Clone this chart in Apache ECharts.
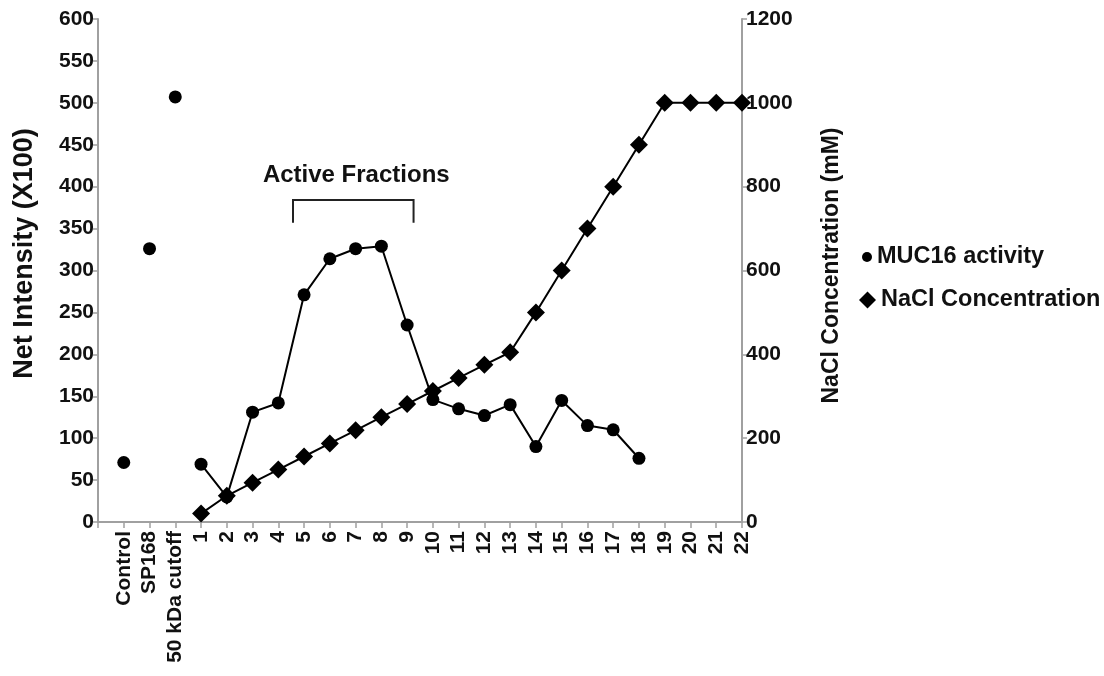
<!DOCTYPE html>
<html>
<head>
<meta charset="utf-8">
<script src="https://cdn.jsdelivr.net/npm/echarts@6/dist/echarts.min.js"></script>
<style>
html,body{margin:0;padding:0;background:#fff;}
#chart{width:1104px;height:676px;}
</style>
</head>
<body>
<div id="chart"></div>
<script>
// Categories along the x axis (first slot is the empty axis start)
const categories = ['', 'Control', 'SP168', '50 kDa cutoff', '1', '2', '3', '4', '5', '6', '7', '8', '9', '10', '11', '12', '13', '14', '15', '16', '17', '18', '19', '20', '21', '22'];
// MUC16 activity, Net Intensity (X100)
const controlLabels = ['Control', 'SP168', '50 kDa cutoff'];
const controlActivity = [71, 326, 507];
const fractionLabels = ['1', '2', '3', '4', '5', '6', '7', '8', '9', '10', '11', '12', '13', '14', '15', '16', '17', '18'];
const fractionActivity = [69, 30, 131, 142, 271, 314, 326, 329, 235, 146, 135, 127, 140, 90, 145, 115, 110, 76];
// NaCl concentration (mM), fractions 1-22
const naclLabels = ['1', '2', '3', '4', '5', '6', '7', '8', '9', '10', '11', '12', '13', '14', '15', '16', '17', '18', '19', '20', '21', '22'];
const naclConc = [20, 62.5, 93.75, 125, 156.25, 187.5, 218.75, 250, 281.25, 312.5, 343.75, 375, 405, 500, 600, 700, 800, 900, 1000, 1000, 1000, 1000];
// Left / right axis ticks
const leftTicks = {min: 0, max: 600, interval: 50};
const rightTicks = {min: 0, max: 1200, interval: 200};

function pairs(labels, values) {
  return labels.map((l, i) => [l, values[i]]);
}

const FONT = "'Liberation Sans', Arial, Helvetica, sans-serif";
const axisGray = '#a0a0a0';
const plain = v => String(v);

const chart = echarts.init(document.getElementById('chart'));
const option = {
  backgroundColor: '#fff',
  animation: false,
  textStyle: {fontFamily: FONT},
  grid: {left: 98, right: 362, top: 19, bottom: 154, containLabel: false},
  legend: [
    {
      data: [{name: 'MUC16 activity', icon: 'circle'}],
      left: 857, top: 240, itemWidth: 10, itemHeight: 10, itemGap: 6,
      textStyle: {fontFamily: FONT, fontWeight: 'bold', fontSize: 23.5, color: '#111'}
    },
    {
      data: [{name: 'NaCl Concentration', icon: 'diamond'}],
      left: 854, top: 283, itemWidth: 17, itemHeight: 17, itemGap: 6,
      textStyle: {fontFamily: FONT, fontWeight: 'bold', fontSize: 23.5, color: '#111'}
    }
  ],
  xAxis: {
    type: 'category',
    data: categories,
    boundaryGap: false,
    axisLine: {lineStyle: {color: axisGray, width: 2}},
    axisTick: {show: true, interval: 0, length: 6, lineStyle: {color: axisGray, width: 1.5}},
    axisLabel: {interval: 0, rotate: 90, margin: 9, color: '#111', fontFamily: FONT, fontWeight: 'bold', fontSize: 21},
    splitLine: {show: false}
  },
  yAxis: [
    {
      type: 'value', position: 'left',
      min: leftTicks.min, max: leftTicks.max, interval: leftTicks.interval,
      name: 'Net Intensity (X100)', nameLocation: 'middle', nameGap: 60, nameRotate: 90,
      nameTextStyle: {fontFamily: FONT, fontWeight: 'bold', fontSize: 27, color: '#111', padding: [0, 0, 0, 34]},
      axisLine: {show: true, lineStyle: {color: axisGray, width: 2}},
      axisTick: {show: true, length: 5, lineStyle: {color: axisGray, width: 1.5}},
      axisLabel: {margin: 4, color: '#111', fontFamily: FONT, fontWeight: 'bold', fontSize: 21, formatter: plain},
      splitLine: {show: false}
    },
    {
      type: 'value', position: 'right',
      min: rightTicks.min, max: rightTicks.max, interval: rightTicks.interval,
      name: 'NaCl Concentration (mM)', nameLocation: 'middle', nameGap: 78, nameRotate: 90,
      nameTextStyle: {fontFamily: FONT, fontWeight: 'bold', fontSize: 23, color: '#111', padding: [0, 0, 0, 10]},
      axisLine: {show: true, lineStyle: {color: axisGray, width: 2}},
      axisTick: {show: true, length: 5, lineStyle: {color: axisGray, width: 1.5}},
      axisLabel: {margin: 4, color: '#111', fontFamily: FONT, fontWeight: 'bold', fontSize: 21, formatter: plain},
      splitLine: {show: false}
    }
  ],
  series: [
    {
      name: 'NaCl Concentration', type: 'line', yAxisIndex: 1,
      data: pairs(naclLabels, naclConc),
      symbol: 'diamond', symbolSize: 18, showAllSymbol: true,
      itemStyle: {color: '#000', opacity: 1}, lineStyle: {color: '#000', width: 2},
      z: 3
    },
    {
      name: 'MUC16 activity', type: 'line', yAxisIndex: 0,
      data: pairs(fractionLabels, fractionActivity),
      symbol: 'circle', symbolSize: 13, showAllSymbol: true,
      itemStyle: {color: '#000', opacity: 1}, lineStyle: {color: '#000', width: 2},
      z: 4
    },
    {
      name: 'MUC16 activity', type: 'scatter', yAxisIndex: 0,
      data: pairs(controlLabels, controlActivity),
      symbol: 'circle', symbolSize: 13,
      itemStyle: {color: '#000', opacity: 1},
      z: 4
    }
  ]
};
chart.setOption(option);

// "Active Fractions" bracket annotation, placed through the axes
function xAt(a, b, t) {
  const pa = chart.convertToPixel({xAxisIndex: 0}, a);
  const pb = chart.convertToPixel({xAxisIndex: 0}, b);
  return pa + (pb - pa) * t;
}
const yTop = chart.convertToPixel({yAxisIndex: 0}, 384);
const yBot = chart.convertToPixel({yAxisIndex: 0}, 357);
const yTxt = chart.convertToPixel({yAxisIndex: 0}, 413);
const xL = xAt('4', '5', 0.57);
const xR = xAt('9', '10', 0.25);
chart.setOption({
  graphic: [
    {
      type: 'polyline',
      shape: {points: [[xL, yBot], [xL, yTop], [xR, yTop], [xR, yBot]]},
      style: {stroke: '#222', lineWidth: 2, fill: null}
    },
    {
      type: 'text',
      x: (xL + xR) / 2 + 3, y: yTxt,
      style: {text: 'Active Fractions', fontFamily: FONT, fontWeight: 'bold', fontSize: 24, fill: '#111', align: 'center', verticalAlign: 'middle'}
    }
  ]
});
</script>
</body>
</html>
